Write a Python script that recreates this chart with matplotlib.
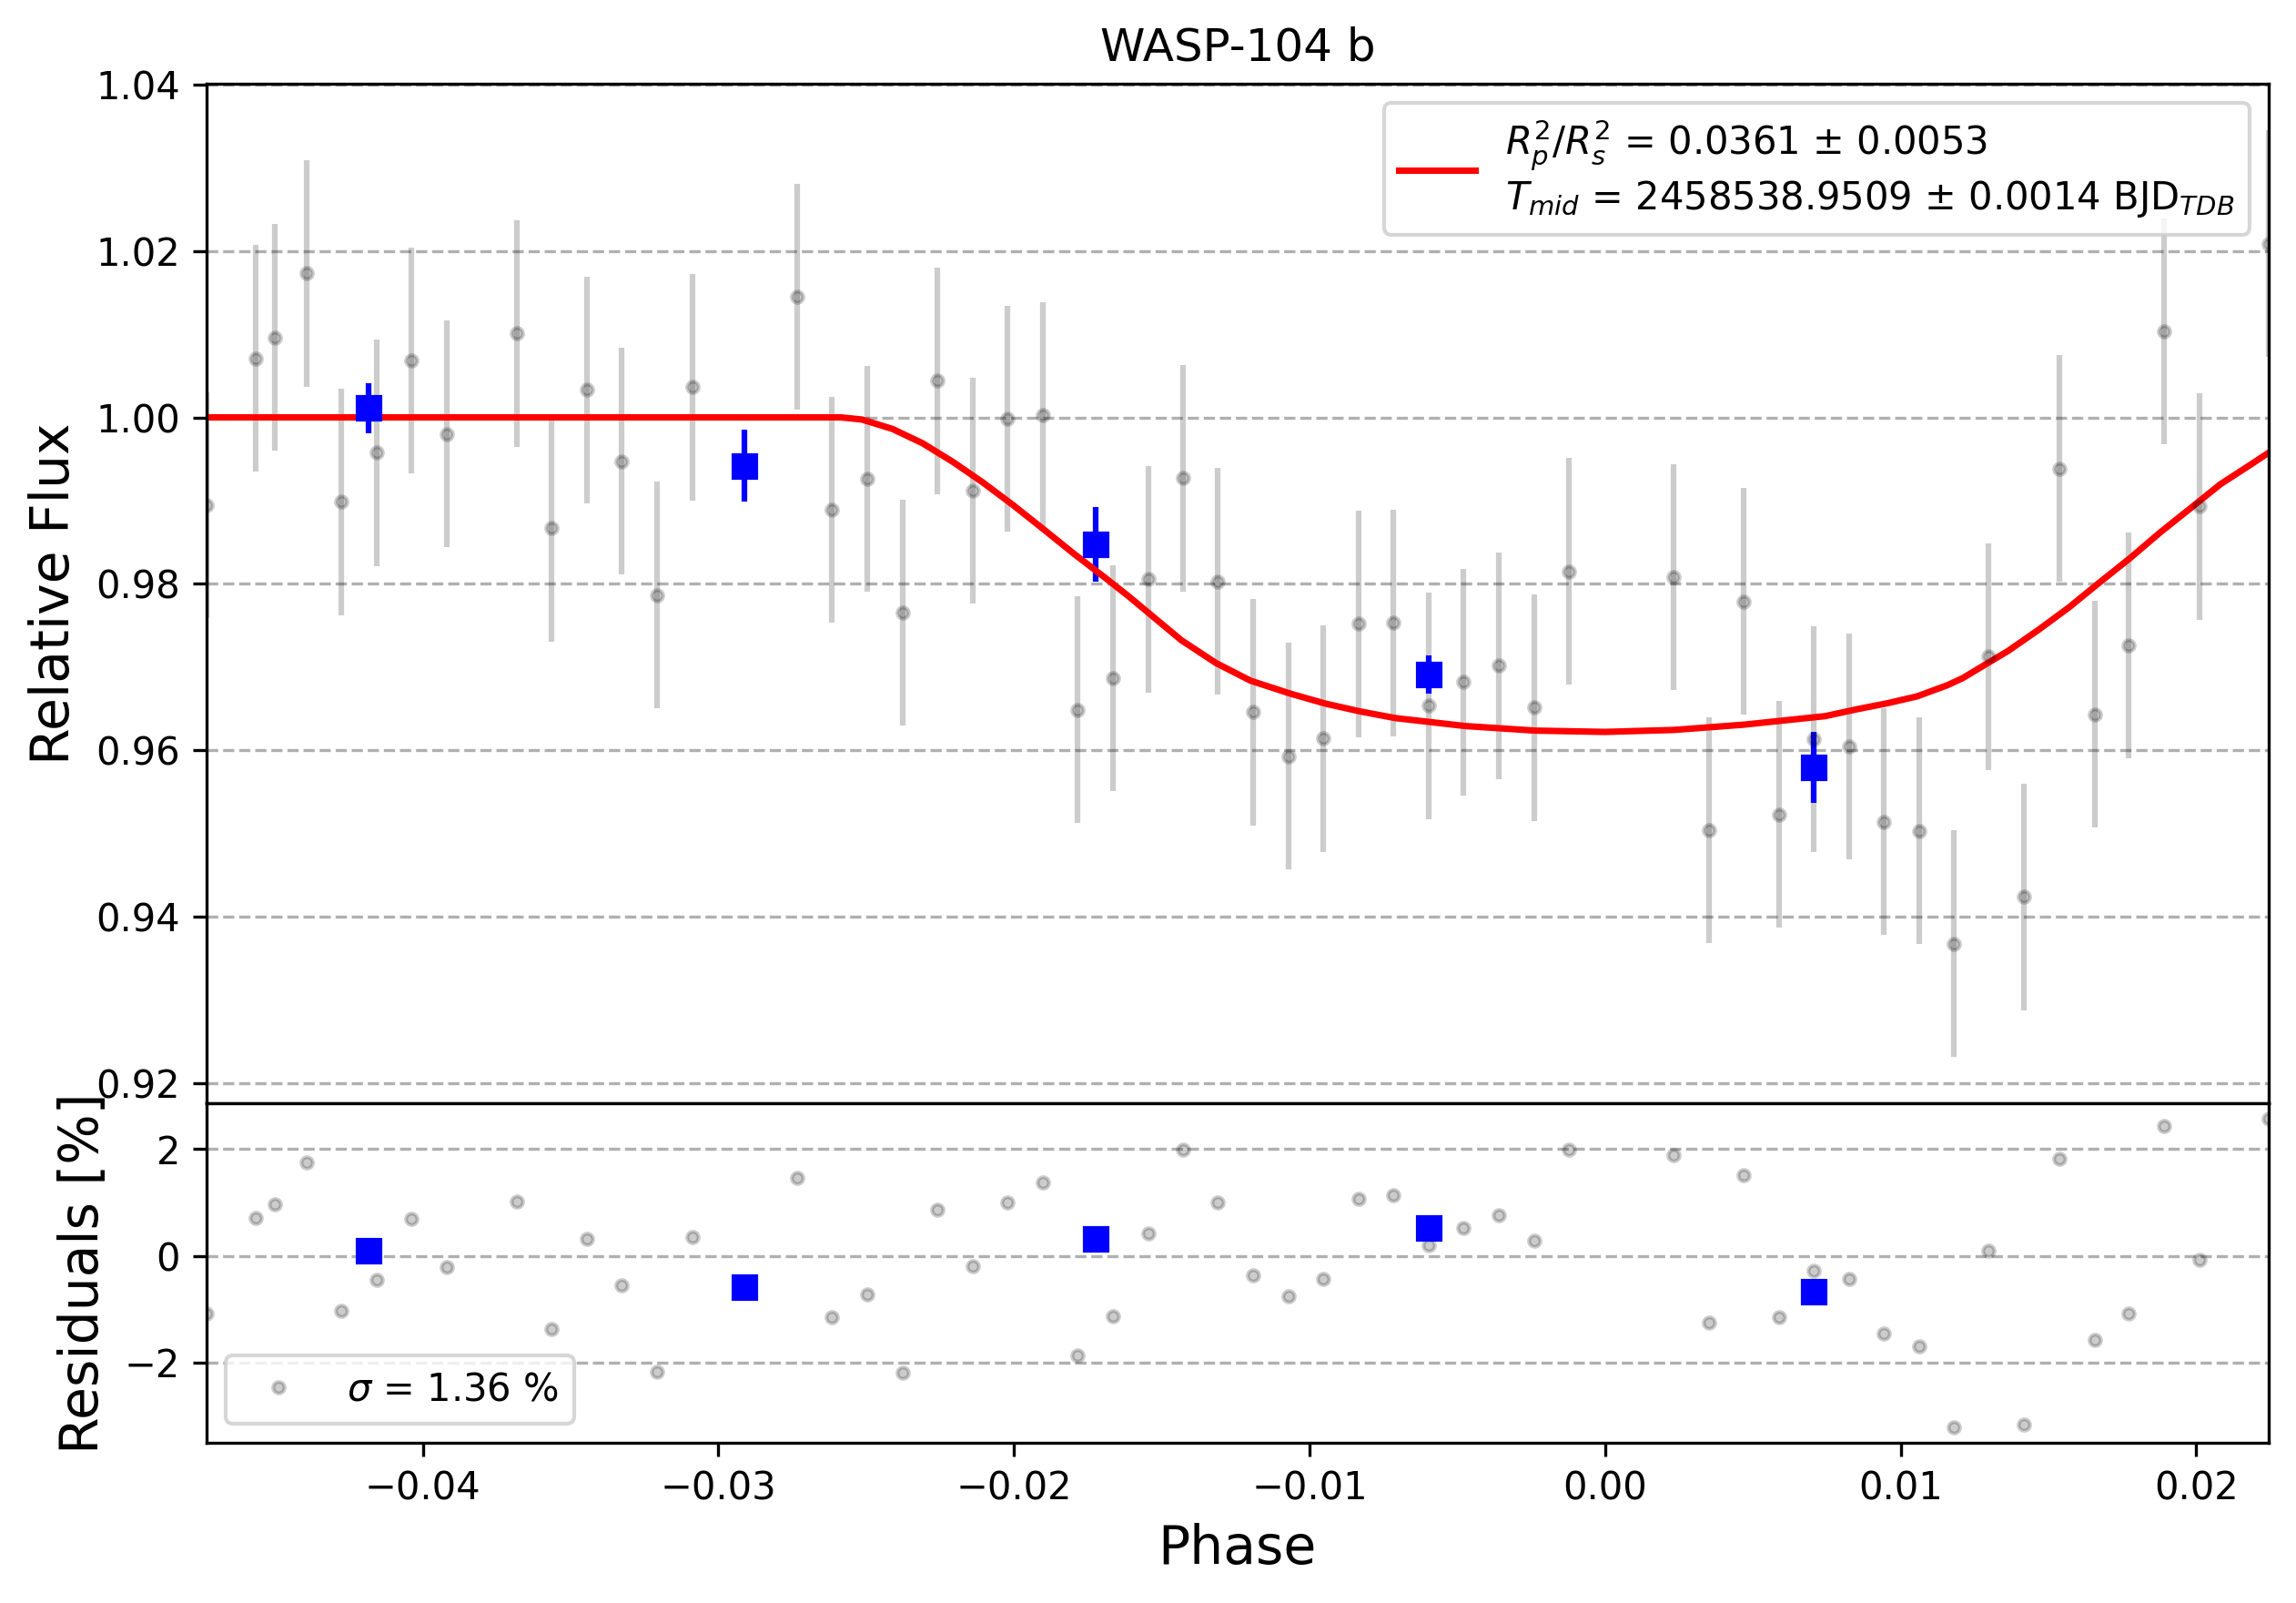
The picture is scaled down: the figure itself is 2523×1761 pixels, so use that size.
import numpy as np
import matplotlib
matplotlib.use('Agg')
import matplotlib.pyplot as plt

# unbinned light curve (phase, relative flux, residuals in %)
phase = [-0.04731, -0.04566, -0.04501, -0.04394, -0.04276, -0.04156, -0.04039, -0.03919,
         -0.03682, -0.03564, -0.03444, -0.03328, -0.03208, -0.03087, -0.02733, -0.02615,
         -0.02497, -0.02376, -0.02259, -0.02140, -0.02022, -0.01903, -0.01785, -0.01665,
         -0.01546, -0.01427, -0.01311, -0.01190, -0.01072, -0.00954, -0.00835, -0.00717,
         -0.00597, -0.00481, -0.00360, -0.00240, -0.00124, 0.00231, 0.00351, 0.00468,
         0.00588, 0.00705, 0.00825, 0.00943, 0.01062, 0.01181, 0.01298, 0.01418,
         0.01537, 0.01656, 0.01772, 0.01892, 0.02011, 0.02244]
flux = [0.98945, 1.00709, 1.00961, 1.01732, 0.98984, 0.99575, 1.00685, 0.99803,
        1.01008, 0.98669, 1.00331, 0.99472, 0.97866, 1.00362, 1.01449, 0.98890,
        0.99260, 0.97654, 1.00441, 0.99118, 0.99984, 1.00024, 0.96488, 0.96866,
        0.98055, 0.99268, 0.98031, 0.96457, 0.95929, 0.96142, 0.97520, 0.97528,
        0.96535, 0.96819, 0.97016, 0.96512, 0.98150, 0.98079, 0.95039, 0.97787,
        0.95228, 0.96134, 0.96047, 0.95142, 0.95031, 0.93677, 0.97126, 0.94236,
        0.99386, 0.96433, 0.97260, 1.01032, 0.98929, 1.02087]
flux_err = 0.0136
resid = [-1.083, 0.707, 0.974, 1.755, -1.031, -0.450, 0.695, -0.211,
         1.026, -1.373, 0.325, -0.553, -2.177, 0.359, 1.464, -1.151,
         -0.729, -2.188, 0.860, -0.188, 1.003, 1.373, -1.869, -1.134,
         0.416, 1.994, 1.003, -0.365, -0.758, -0.433, 1.071, 1.140,
         0.194, 0.524, 0.764, 0.285, 1.983, 1.892, -1.254, 1.510,
         -1.151, -0.279, -0.433, -1.453, -1.692, -3.214, 0.097, -3.168,
         1.823, -1.573, -1.077, 2.439, -0.074, 2.575]

# binned points
bin_phase = [-0.04184, -0.02913, -0.01724, -0.00597, 0.00707]
bin_flux = [1.0011, 0.99417, 0.98472, 0.96906, 0.95795]
bin_err = [0.0030, 0.0043, 0.0045, 0.0023, 0.0043]
bin_resid = [0.097, -0.587, 0.319, 0.524, -0.672]

# transit model
model_phase = [-0.04731, -0.02586, -0.02514, -0.02411, -0.02309, -0.02206, -0.02104,
               -0.02001, -0.01898, -0.01796, -0.01693, -0.01611, -0.01434, -0.01316,
               -0.01199, -0.01062, -0.00945, -0.00827, -0.00709, -0.00474, -0.00238,
               0.0, 0.00233, 0.00469, 0.00745, 0.00851, 0.00954, 0.01056, 0.01159,
               0.01210, 0.01261, 0.01364, 0.01467, 0.01569, 0.01672, 0.01775,
               0.01877, 0.01980, 0.02082, 0.02185, 0.02244]
model_flux = [1.0, 1.0, 0.99974, 0.99861, 0.99689, 0.99464, 0.99215,
              0.98941, 0.98650, 0.98358, 0.98077, 0.97847, 0.97323, 0.97047,
              0.96835, 0.96677, 0.96559, 0.96465, 0.96386, 0.96291, 0.96236,
              0.96220, 0.96244, 0.96307, 0.96410, 0.96492, 0.96564, 0.96648, 0.96783,
              0.96867, 0.96976, 0.97195, 0.97449, 0.97716, 0.98014, 0.98306,
              0.98615, 0.98907, 0.99198, 0.99435, 0.99574]

fig = plt.figure(figsize=(2523 / 300, 1761 / 300), dpi=300)
gs = fig.add_gridspec(2, 1, height_ratios=[3, 1], hspace=0,
                      left=0.090, right=0.988, top=0.9478, bottom=0.0999)
ax1 = fig.add_subplot(gs[0])
ax2 = fig.add_subplot(gs[1], sharex=ax1)

ax1.errorbar(phase, flux, yerr=flux_err, ls='none', marker='o', ms=3,
             color='black', alpha=0.2)
ax1.errorbar(bin_phase, bin_flux, yerr=bin_err, fmt='s', ms=6, color='blue')
label = (r'$R_{p}^{2}/R_{s}^{2}$ = 0.0361 ± 0.0053' + '\n'
         + r'$T_{mid}$ = 2458538.9509 ± 0.0014 BJD$_{TDB}$')
ax1.plot(model_phase, model_flux, 'r-', lw=1.7, label=label)
ax1.set_title('WASP-104 b')
ax1.set_ylabel('Relative Flux', fontsize=14)
ax1.set_ylim(0.9176, 1.0401)
ax1.grid(True, axis='y', ls='--')
ax1.legend(loc='upper right')
ax1.tick_params(axis='x', bottom=False, labelbottom=False)

ax2.plot(phase, resid, 'o', ms=3, color='black', alpha=0.2,
         label=r'$\sigma$ = 1.36 %')
ax2.plot(bin_phase, bin_resid, 's', ms=6, color='blue')
ax2.set_yticks([-2, 0, 2])
ax2.grid(True, axis='y', ls='--')
ax2.legend(loc='lower left')
ax2.set_xlim(min(phase), max(phase))
ax2.set_xlabel('Phase', fontsize=14)
ax2.set_ylabel('Residuals [%]', fontsize=14)

fig.savefig('out.png', dpi=300)
